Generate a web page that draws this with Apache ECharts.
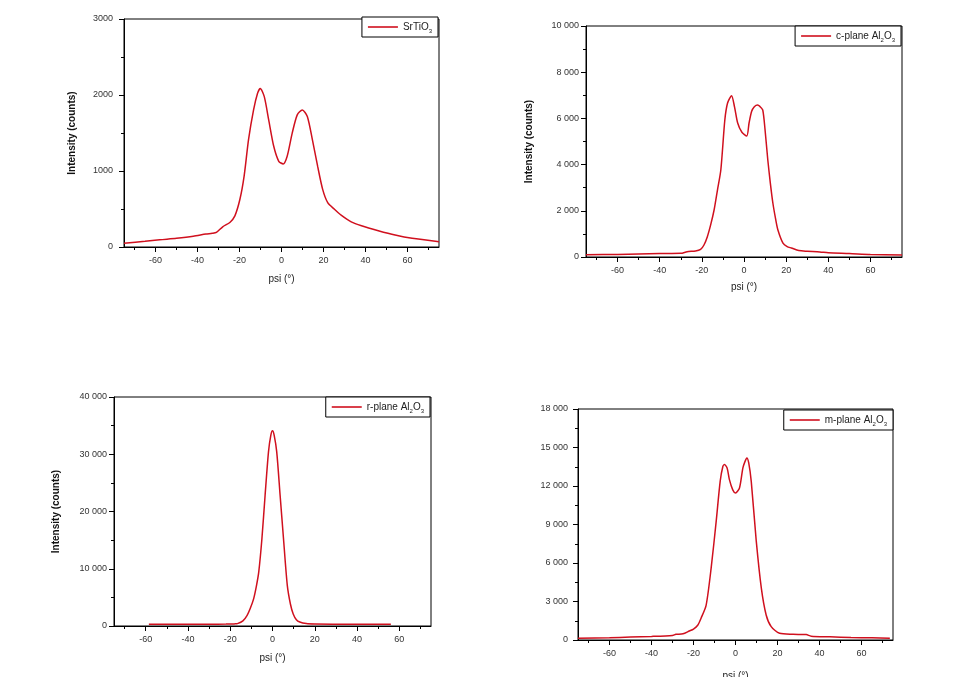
<!DOCTYPE html>
<html><head><meta charset="utf-8">
<script src="https://cdn.jsdelivr.net/npm/echarts@6/dist/echarts.min.js"></script>
<style>html,body{margin:0;padding:0;background:#fff}#c{width:954px;height:677px}</style>
</head><body><div id="c"></div>
<script>
// ---------- data ----------
const xTicks = [-60, -40, -20, 0, 20, 40, 60];
const xMinorTicks = [-70, -50, -30, -10, 10, 30, 50, 70];
const seriesNames = ['SrTiO3', 'c-plane Al2O3', 'r-plane Al2O3', 'm-plane Al2O3'];
const yMaxes = [3000, 10000, 40000, 18000];
const yIntervals = [1000, 2000, 10000, 3000];

// SrTiO3
const psi1 = [-75, -65, -58, -50, -42, -36, -33, -31, -28, -24.6, -22.2, -19.8, -17.8, -15.7, -13.3, -11.4, -10.1, -8.2, -6.1, -3.7, -1.3, 0.8, 2.7, 5.1, 7.5, 9.9, 12.3, 14.7, 17.2, 19.6, 22, 25.2, 28.4, 33.2, 38.1, 46.1, 54.1, 62.2, 75];
const int1 = [48, 75, 95, 114, 140, 170, 180, 192, 266, 323, 410, 628, 933, 1412, 1804, 2022, 2087, 1978, 1673, 1325, 1128, 1093, 1194, 1499, 1738, 1804, 1717, 1412, 1063, 758, 584, 497, 419, 331, 279, 214, 157, 114, 70];

// c-plane Al2O3
const psi2 = [-75, -60, -50, -40, -30, -27, -23, -20.6, -19, -17.4, -15.8, -14.2, -12.6, -11, -9.1, -7.8, -5.9, -4.5, -3, -1, 1.3, 2.4, 3.6, 4.9, 6.5, 7.5, 8.9, 10, 11.3, 12.5, 13.7, 15, 16.1, 18.5, 20.5, 22.5, 26, 30, 36, 40, 50, 60, 75];
const int2 = [100, 110, 130, 150, 160, 230, 260, 330, 520, 880, 1400, 2035, 2900, 3766, 5930, 6666, 6983, 6500, 5800, 5400, 5238, 5800, 6300, 6507, 6580, 6520, 6364, 5500, 4200, 3200, 2338, 1650, 1170, 600, 450, 390, 280, 250, 220, 180, 150, 110, 90];

// r-plane Al2O3
const psi3 = [-58.5, -50, -40, -30, -22, -18, -16.6, -14, -12, -10.5, -8.9, -7.6, -6.5, -5, -3.5, -1.9, -0.8, 0, 0.8, 2, 3.6, 5.2, 7, 8.5, 9.8, 11.3, 12.9, 16, 20, 30, 40, 50, 56];
const int3 = [300, 300, 300, 310, 330, 370, 420, 900, 1870, 3100, 4790, 7000, 9440, 15280, 22850, 30420, 33300, 34090, 33300, 30420, 22850, 15280, 7100, 3800, 2100, 1100, 700, 420, 340, 310, 300, 300, 300];

// m-plane Al2O3
const psi4 = [-75, -60, -50, -40, -30, -28.4, -25, -22, -20, -18, -16.4, -14, -11.6, -9.2, -7.3, -6, -5.25, -4, -2.9, -1.3, 0, 1.9, 3.5, 4.5, 5.4, 6.3, 7.5, 9.9, 12.3, 14.6, 17, 21, 27.4, 33.7, 36, 45, 55, 65, 73.5];
const int4 = [130, 180, 230, 280, 360, 440, 480, 700, 850, 1150, 1700, 2700, 5600, 9240, 12360, 13540, 13670, 13400, 12500, 11700, 11455, 11850, 13400, 13900, 14190, 13800, 12360, 7680, 4040, 1950, 1040, 520, 445, 420, 300, 250, 200, 170, 130];

const psiAll = [psi1, psi2, psi3, psi4];
const intAll = [int1, int2, int3, int4];

// ---------- layout ----------
const grids = [
  {left: 124, top: 19, width: 315, height: 228},
  {left: 586, top: 26, width: 316, height: 231},
  {left: 114, top: 397, width: 317, height: 229},
  {left: 578, top: 409, width: 315, height: 231}
];
const yNameGaps = [47, 52, 53, 0];
const yLabelMargins = [11, 7, 7, 10];
const xNameGaps = [27, 25, 27, 31];
const legendPos = [
  {right: 516, top: 17}, {right: 53, top: 26}, {right: 524, top: 397}, {right: 61, top: 410}
];

const FONT = 'Liberation Sans, Arial, sans-serif';
const RED = '#d0101e';

function fmt(i) {
  return function (v) {
    const s = String(v);
    if (i === 0) return s;
    return s.replace(/\B(?=(\d{3})+(?!\d))/g, ' ');
  };
}
function legendFmt(name) {
  return name.replace(/(\D)(\d)/g, '$1{sub|$2}');
}

const option = {
  animation: false,
  backgroundColor: '#fff',
  grid: [], xAxis: [], yAxis: [], series: [], legend: []
};

for (let i = 0; i < 4; i++) {
  option.grid.push(Object.assign({show: true, borderColor: '#000', borderWidth: 1, containLabel: false, outerBoundsMode: 'none'}, grids[i]));
  option.xAxis.push({
    type: 'value', gridIndex: i, min: -75, max: 75, position: 'bottom',
    name: 'psi (°)', nameLocation: 'middle', nameGap: xNameGaps[i],
    nameTextStyle: {fontFamily: FONT, fontSize: 10, color: '#222'},
    axisLine: {show: true, onZero: false, lineStyle: {color: '#000', width: 1}},
    axisTick: {show: true, inside: false, length: 5, customValues: xTicks, lineStyle: {color: '#000'}},
    axisLabel: {show: true, customValues: xTicks, margin: 9, fontFamily: FONT, fontSize: 9, color: '#333'},
    splitLine: {show: false}
  });
  option.xAxis.push({
    type: 'value', gridIndex: i, min: -75, max: 75, position: 'bottom', offset: 0,
    axisLine: {show: false, onZero: false},
    axisTick: {show: true, inside: false, length: 3, customValues: xMinorTicks, lineStyle: {color: '#000'}},
    axisLabel: {show: false},
    splitLine: {show: false}
  });
  option.yAxis.push({
    type: 'value', gridIndex: i, min: 0, max: yMaxes[i], interval: yIntervals[i],
    name: i === 3 ? '' : 'Intensity (counts)', nameLocation: 'middle', nameGap: yNameGaps[i],
    nameTextStyle: {fontFamily: FONT, fontSize: 10, fontWeight: 'bold', color: '#111'},
    axisLine: {show: true, onZero: false, lineStyle: {color: '#000', width: 1}},
    axisTick: {show: true, inside: false, length: 5, lineStyle: {color: '#000'}},
    minorTick: {show: true, splitNumber: 2, length: 3, lineStyle: {color: '#000'}},
    axisLabel: {margin: yLabelMargins[i], fontFamily: FONT, fontSize: 9, color: '#333', formatter: fmt(i)},
    splitLine: {show: false}, minorSplitLine: {show: false}
  });
  option.series.push({
    type: 'line', name: seriesNames[i], xAxisIndex: 2 * i, yAxisIndex: i,
    data: psiAll[i].map((x, k) => [x, intAll[i][k]]),
    showSymbol: false, symbol: 'none', smooth: 0.25,
    lineStyle: {color: RED, width: 1.5}, itemStyle: {color: RED}
  });
  option.legend.push(Object.assign({
    data: [seriesNames[i]], orient: 'horizontal',
    backgroundColor: '#fff', borderColor: '#000', borderWidth: 1,
    padding: [3, 6, 3, 6], icon: 'rect', itemWidth: 30, itemHeight: 1.6, itemGap: 4,
    formatter: legendFmt,
    textStyle: {fontFamily: FONT, fontSize: 10, color: '#222', lineHeight: 14,
      rich: {sub: {fontFamily: FONT, fontSize: 6, color: '#222', verticalAlign: 'bottom', lineHeight: 14}}}
  }, legendPos[i]));
}

const chart = echarts.init(document.getElementById('c'), null, {renderer: 'canvas'});
chart.setOption(option);
</script>
</body></html>
